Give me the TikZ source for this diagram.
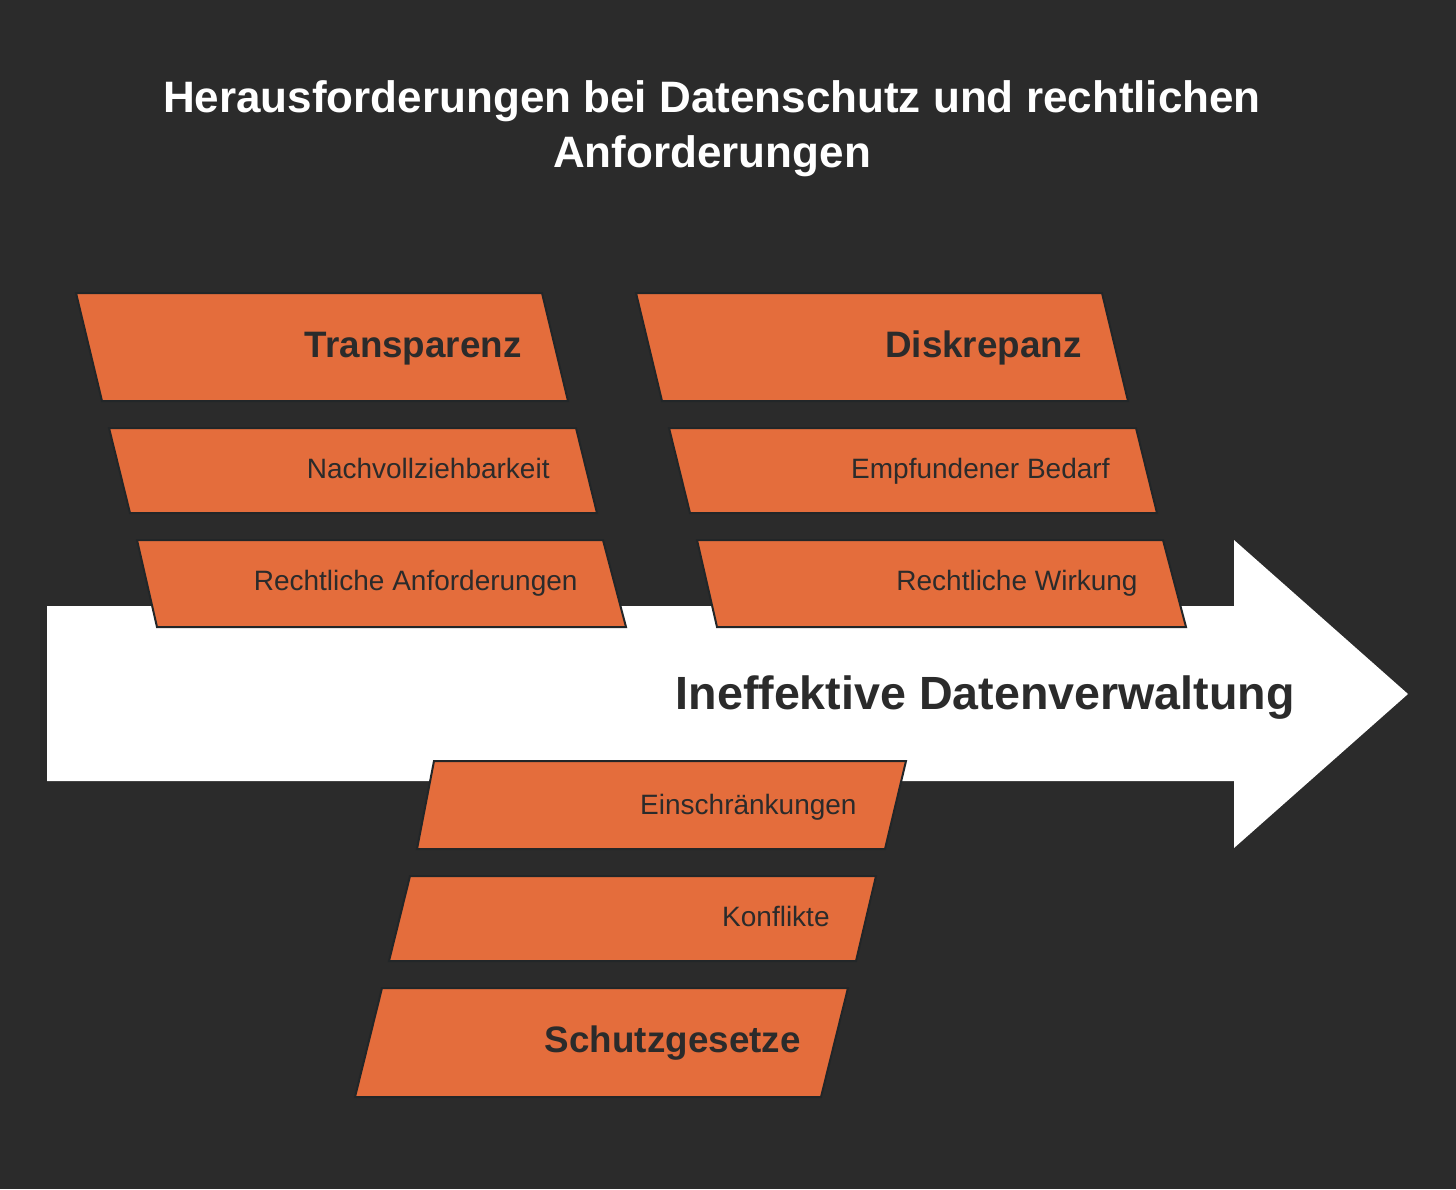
\documentclass[tikz,border=0pt]{standalone}
\usepackage{fontspec}
\setmainfont{Liberation Sans}
\definecolor{bg}{HTML}{2B2B2B}
\definecolor{orng}{HTML}{E46D3C}
\definecolor{ink}{HTML}{2B2B2B}
\definecolor{edge}{HTML}{222628}
\tikzset{
  pbox/.style={fill=orng, draw=edge, line width=1pt, line join=miter},
  headtxt/.style={inner sep=0pt, anchor=base east, text=ink, font=\fontsize{18.4}{20}\selectfont\bfseries},
  subtxt/.style={inner sep=0pt, anchor=base east, text=ink, font=\fontsize{14}{16}\selectfont},
  titletxt/.style={inner sep=0pt, anchor=base, text=white, font=\fontsize{22}{26}\selectfont\bfseries},
}
\begin{document}
\begin{tikzpicture}[x=0.5pt, y=-0.5pt]
\fill[bg] (0,0) rectangle (1456,1189);
\useasboundingbox (0,0) rectangle (1456,1189);
% title
\node[titletxt] (t1) at (712,112) {Herausforderungen bei Datenschutz und rechtlichen};
\node[titletxt] (t2) at (712,167) {Anforderungen};
% main arrow
\fill[white] (47,606) -- (1234,606) -- (1234,540) -- (1408,694) -- (1234,848) -- (1234,781) -- (47,781) -- cycle;
% top-left group
\draw[pbox] (76,293) -- (542,293) -- (568,401) -- (102,401) -- cycle;
\draw[pbox] (109,428) -- (576,428) -- (597,513) -- (130,513) -- cycle;
\draw[pbox] (137,540) -- (603,540) -- (626,627) -- (157,627) -- cycle;
% top-right group
\draw[pbox] (636,293) -- (1102,293) -- (1128,401) -- (662,401) -- cycle;
\draw[pbox] (669,428) -- (1136,428) -- (1157,513) -- (690,513) -- cycle;
\draw[pbox] (697,540) -- (1163,540) -- (1186,627) -- (717,627) -- cycle;
% bottom group
\draw[pbox] (434,761) -- (906,761) -- (885,849) -- (417,849) -- cycle;
\draw[pbox] (410,876) -- (876,876) -- (856,961) -- (389,961) -- cycle;
\draw[pbox] (382,988) -- (848,988) -- (821,1097) -- (355,1097) -- cycle;
% labels
\node[headtxt] (transp) at (522,357) {Transparenz};
\node[subtxt] (nachv) at (550,478) {Nachvollziehbarkeit};
\node[subtxt] (rechtanf) at (578,590) {Rechtliche Anforderungen};
\node[headtxt] (diskr) at (1082,357) {Diskrepanz};
\node[subtxt] (bedarf) at (1110,478) {Empfundener Bedarf};
\node[subtxt] (wirkung) at (1138,590) {Rechtliche Wirkung};
\node[inner sep=0pt, anchor=base east, text=ink, font=\fontsize{23.3}{26}\selectfont\bfseries] (main) at (1295,709) {Ineffektive Datenverwaltung};
\node[subtxt] (einschr) at (857,814) {Einschränkungen};
\node[subtxt] (konfl) at (830,926) {Konflikte};
\node[headtxt] (schutz) at (801,1052) {Schutzgesetze};
\end{tikzpicture}
\end{document}
